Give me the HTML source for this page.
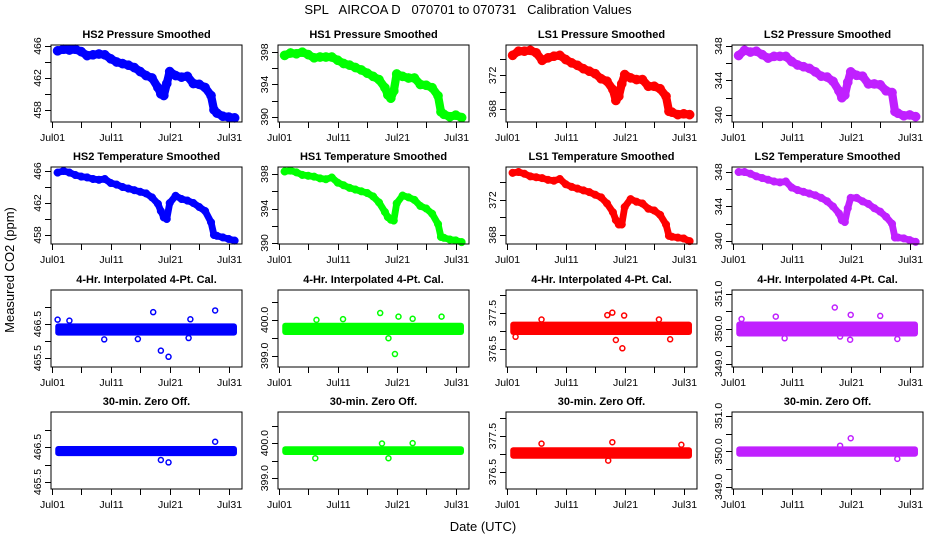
<!DOCTYPE html>
<html><head><meta charset="utf-8"><style>
html,body{margin:0;padding:0;background:#fff;}
svg{display:block;font-family:"Liberation Sans",sans-serif;}
</style></head><body>
<svg id="chart" width="936" height="540" viewBox="0 0 936 540" xmlns="http://www.w3.org/2000/svg">
<text x="468" y="14" text-anchor="middle" font-size="13" xml:space="preserve">SPL   AIRCOA D   070701 to 070731   Calibration Values</text>
<text transform="translate(14,270) rotate(-90)" text-anchor="middle" font-size="13">Measured CO2 (ppm)</text>
<text x="483" y="531" text-anchor="middle" font-size="13">Date (UTC)</text>
<g id="panels"></g>
</svg>
<script>
// shared time axis (days of July)
const t = [2,3,4,5,6,7,8,9,10,11,12,13,14,15,16,17,18,19,19.5,20,20.5,21,22,23,24,25,26,27,28,28.5,29,30,31,32];
const xTickDays = [1,6,11,16,21,26,31];
const xTickLabels = ["Jul01","","Jul11","","Jul21","","Jul31"];

const hs2P = [465.4,465.6,465.5,465.6,465.3,464.8,464.9,465.0,464.9,464.4,464.0,463.8,463.6,463.3,462.8,462.3,462.0,460.8,460.0,459.8,461.3,462.8,462.3,462.1,462.2,461.3,461.2,460.8,459.8,458.0,457.6,457.2,457.1,457.0];
const hs1P = [397.6,397.9,397.8,398.0,397.7,397.3,397.4,397.4,397.4,397.0,396.6,396.4,396.1,395.8,395.4,395.0,394.6,393.6,392.7,392.3,393.2,395.3,395.0,394.8,394.8,394.0,393.9,393.6,392.6,390.6,390.3,390.0,390.2,389.9];
const ls1P = [374.4,374.9,374.9,375.0,374.7,373.8,374.1,374.3,374.4,373.9,373.5,373.2,372.8,372.5,372.2,371.6,371.3,370.3,369.0,369.5,371.0,372.1,371.7,371.5,371.5,370.7,370.7,370.4,369.5,367.7,367.6,367.3,367.4,367.3];
const ls2P = [346.9,347.5,347.3,347.4,347.0,346.6,346.8,346.8,346.8,346.2,345.8,345.6,345.4,345.0,344.5,344.4,343.9,342.8,342.0,342.3,343.8,345.0,344.6,344.5,343.6,343.6,343.5,342.8,342.6,340.4,340.2,339.9,340.0,339.8];

const hs2T = [465.8,466.0,465.8,465.5,465.3,465.2,465.0,464.9,465.0,464.5,464.3,464.0,463.8,463.6,463.4,463.2,462.7,461.9,461.0,460.2,460.0,462.0,462.9,462.5,462.3,462.0,461.5,461.0,459.6,458.0,457.9,457.7,457.5,457.3];
const hs1T = [398.3,398.4,398.2,397.9,397.8,397.7,397.5,397.4,397.6,397.0,396.7,396.4,396.2,396.0,395.8,395.4,394.7,393.6,393.0,392.7,392.6,394.6,395.5,395.3,395.0,394.3,394.0,393.4,392.2,390.7,390.6,390.4,390.3,390.1];
const ls1T = [375.1,375.2,375.0,374.7,374.6,374.5,374.3,374.2,374.4,373.8,373.5,373.3,373.1,372.9,372.6,372.3,371.6,370.6,369.7,369.2,369.2,371.2,372.1,371.8,371.6,371.0,370.8,370.3,369.2,367.9,367.8,367.7,367.6,367.3];
const ls2T = [348.0,348.0,347.8,347.5,347.3,347.1,346.9,346.8,346.9,346.2,345.9,345.7,345.5,345.3,345.0,344.6,344.0,343.2,342.4,342.2,343.8,345.0,345.0,344.6,344.3,343.8,343.4,342.8,342.0,340.4,340.4,340.3,340.1,339.9];

// noise bands [lo, hi] and outliers [day, value]
const hs2CalBand = [466.16,466.52];
const hs1CalBand = [399.58,399.92];
const ls1CalBand = [376.89,377.26];
const ls2CalBand = [349.78,350.21];
const hs2ZeroBand = [466.24,466.53];
const hs1ZeroBand = [399.66,399.91];
const ls1ZeroBand = [376.87,377.19];
const ls2ZeroBand = [349.85,350.14];

const hs2CalOut = [[2.0,466.63],[4.0,466.6],[9.9,466.05],[15.6,466.06],[18.2,466.85],[19.5,465.72],[20.8,465.54],[24.2,466.09],[24.5,466.64],[28.7,466.9]];
const hs1CalOut = [[7.4,400.0],[11.9,400.02],[18.2,400.19],[19.6,399.49],[20.7,399.05],[21.3,400.09],[23.7,400.03],[28.6,400.09]];
const ls1CalOut = [[2.5,376.84],[6.9,377.32],[18.05,377.44],[18.9,377.51],[19.5,376.75],[20.6,376.52],[20.9,377.43],[26.8,377.32],[28.7,376.77]];
const ls2CalOut = [[2.5,350.28],[8.3,350.35],[9.8,349.73],[18.3,350.61],[19.2,349.78],[20.9,349.69],[21.0,350.4],[26.0,350.37],[28.9,349.71]];
const hs2ZeroOut = [[19.5,466.13],[20.8,466.06],[28.7,466.65]];
const hs1ZeroOut = [[7.2,399.57],[18.5,399.99],[19.6,399.57],[23.7,400.0]];
const ls1ZeroOut = [[6.9,377.29],[18.2,376.82],[18.9,377.33],[30.6,377.26]];
const ls2ZeroOut = [[19.2,350.16],[21.0,350.37],[28.9,349.79]];

const colNames = ["HS2","HS1","LS1","LS2"];
const colColors = ["#0000ff","#00ff00","#ff0000","#c020ff"];
const colStroke = ["#0000ff","#00ff00","#ff0000","#c020ff"];
const rowTitles = ["Pressure Smoothed","Temperature Smoothed","4-Hr. Interpolated 4-Pt. Cal.","30-min. Zero Off."];

const yDomains = [
 [[456.48,466.13],[389.35,398.89],[366.42,375.64],[339.18,348.12]],
 [[456.875,466.5],[389.88,398.82],[366.97,375.77],[339.65,348.58]],
 [[465.24,467.5],[398.69,400.83],[376.0,378.14],[348.91,351.11]],
 [[465.3,467.5],[398.69,400.89],[376.03,378.17],[348.94,351.11]]
];
const smoothTicks = [[458,460,462,464,466],[390,392,394,396,398],[368,370,372,374],[340,342,344,346,348]];
const smoothLabels = [[458,462,466],[390,394,398],[368,372],[340,344,348]];
const noiseTicks = [[465.5,466,466.5,467],[399,399.5,400,400.5],[376.5,377,377.5,378],[349,349.5,350,350.5,351]];
const noiseLabels = [[465.5,466.5],[399.0,400.0],[376.5,377.5],[349.0,350.0,351.0]];

const smoothData = [[hs2P,hs1P,ls1P,ls2P],[hs2T,hs1T,ls1T,ls2T]];
const bands = [[hs2CalBand,hs1CalBand,ls1CalBand,ls2CalBand],[hs2ZeroBand,hs1ZeroBand,ls1ZeroBand,ls2ZeroBand]];
const outliers = [[hs2CalOut,hs1CalOut,ls1CalOut,ls2CalOut],[hs2ZeroOut,hs1ZeroOut,ls1ZeroOut,ls2ZeroOut]];

const NS = "http://www.w3.org/2000/svg";
const boxX = [51,278,506,732], boxY = [45,167,290,412], BW = 191, BH = 77;
const xDom = [0.88,33.25];
function mk(tag, attrs, parent){ const e=document.createElementNS(NS,tag); for(const k in attrs) e.setAttribute(k,attrs[k]); parent.appendChild(e); return e; }
const root = document.getElementById("panels");

for(let r=0;r<4;r++){
 for(let c=0;c<4;c++){
  const L=boxX[c], T=boxY[r];
  const dom=yDomains[r][c];
  const xs=d=>L+(d-xDom[0])/(xDom[1]-xDom[0])*BW;
  const ys=v=>T+BH-(v-dom[0])/(dom[1]-dom[0])*BH;
  const g=mk("g",{},root);
  
  
  const title=mk("text",{x:L+BW/2,y:T-7,"text-anchor":"middle","font-size":"11","font-weight":"bold"},g);
  title.textContent=colNames[c]+" "+rowTitles[r];
  if(r>1) title.textContent=rowTitles[r];
  
  
  const dg=mk("g",{},g);
  
  
  if(r<2){
   const vals=smoothData[r][c];
   const rad = r===0?4.6:3.8;
   for(let i=0;i<t.length;i++){
    const p=mk("circle",{cx:xs(t[i]),cy:ys(vals[i]),r:rad,fill:colColors[c],stroke:colStroke[c],"stroke-width":"0.5"},dg);
    
    
    if(i<t.length-1 && t[i+1]-t[i]<=1){
     const s=mk("line",{x1:xs(t[i]),y1:ys(vals[i]),x2:xs(t[i+1]),y2:ys(vals[i+1]),stroke:colColors[c],"stroke-width":rad*1.8},dg);
     
     
    }
   }
  } else {
   const b=bands[r-2][c];
   const band=mk("rect",{x:xs(1.6),y:ys(b[1]),width:xs(32.4)-xs(1.6),height:ys(b[0])-ys(b[1]),rx:3,fill:colColors[c]},dg);
   
   
   for(const o of outliers[r-2][c]){
    const p=mk("circle",{cx:xs(o[0]),cy:ys(o[1]),r:2.5,fill:"none",stroke:colStroke[c],"stroke-width":"1.5"},dg);
    
    
   }
  }
  const box=mk("rect",{x:L,y:T,width:BW,height:BH,fill:"none",stroke:"#000","stroke-width":"1"},g);
  
  
  for(let i=0;i<xTickDays.length;i++){
   const x=Math.round(xs(xTickDays[i]))+0.5;
   const tk=mk("line",{x1:x,y1:T+BH,x2:x,y2:T+BH+6,stroke:"#000"},g);
   
   
   if(xTickLabels[i]){
    const tl=mk("text",{x:x,y:T+BH+19,"text-anchor":"middle","font-size":"10.5"},g);
    tl.textContent=xTickLabels[i];
    
    
   }
  }
  const ticks = r<2?smoothTicks[c]:noiseTicks[c];
  const labels = r<2?smoothLabels[c]:noiseLabels[c];
  for(const v of ticks){
   const y=Math.round(ys(v))+0.5;
   const tk=mk("line",{x1:L-6,y1:y,x2:L,y2:y,stroke:"#000"},g);
   
   
  }
  for(const v of labels){
   const y=ys(v);
   const tl=mk("text",{transform:`translate(${L-10},${y}) rotate(-90)`,"text-anchor":"middle","font-size":"10.5"},g);
   tl.textContent = r<2 ? String(v) : v.toFixed(1);
   
   
  }
 }
}
</script>
</body></html>
